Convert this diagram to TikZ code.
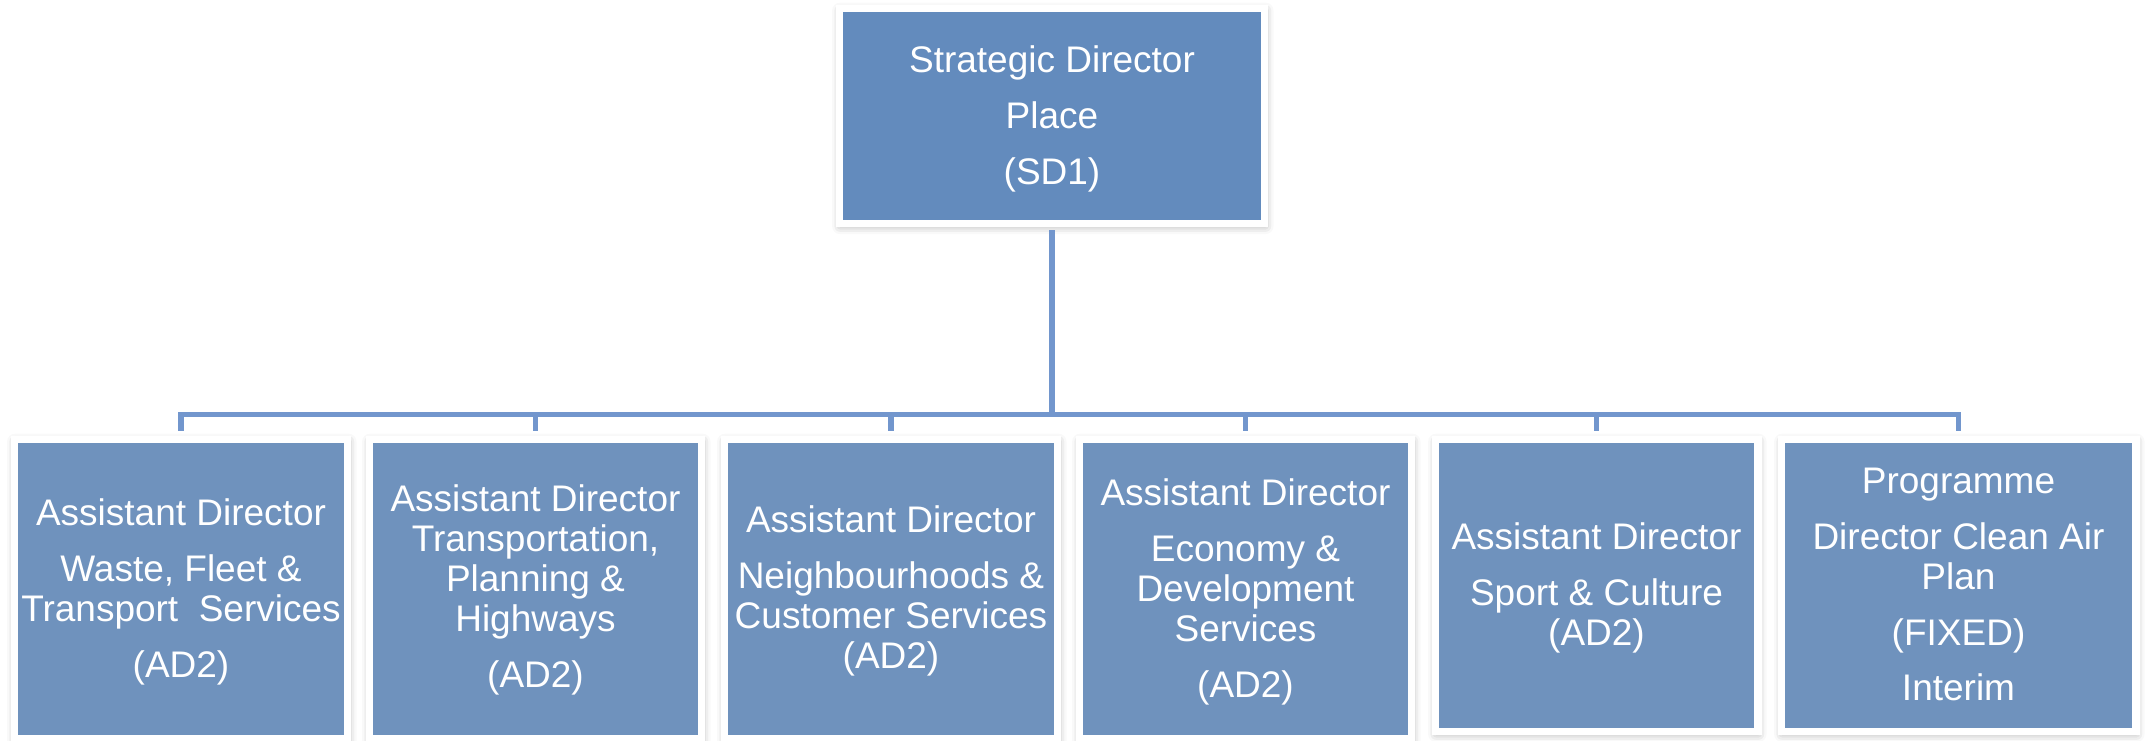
\documentclass[tikz,border=0pt]{standalone}
\usepackage{fontspec}
\setmainfont{Liberation Sans}
\usetikzlibrary{shadows.blur}
\definecolor{topblue}{RGB}{99,139,189}
\definecolor{boxblue}{RGB}{111,146,189}
\definecolor{linkblue}{RGB}{114,150,205}
\begin{document}
\begin{tikzpicture}[x=0.75pt,y=-0.75pt,
  framebox/.style={rectangle, draw=white, line width=5.6pt, fill=boxblue, inner sep=0pt,
    blur shadow={shadow xshift=0.6pt, shadow yshift=-1.8pt, shadow blur radius=6pt, shadow opacity=35}},
  label/.style={anchor=base, align=center, text=white, inner sep=0pt,
    font=\fontsize{27.75}{30}\selectfont},
  conn/.style={draw=linkblue, line width=4.2pt, line join=miter}]
\useasboundingbox (0,0) rectangle (2150,741);
\coordinate (barc) at (1052,414.5);
% boxes
\node[framebox, fill=topblue, minimum width={425.5*0.75pt}, minimum height={215.5*0.75pt}] (top) at (1052,116) {};
\node[framebox, minimum width={333.5*0.75pt}, minimum height={299.5*0.75pt}] (b1) at (181,589) {};
\node[framebox, minimum width={332.5*0.75pt}, minimum height={299.5*0.75pt}] (b2) at (535.5,589) {};
\node[framebox, minimum width={333.5*0.75pt}, minimum height={299.5*0.75pt}] (b3) at (891,589) {};
\node[framebox, minimum width={332.5*0.75pt}, minimum height={299.5*0.75pt}] (b4) at (1245.5,589) {};
\node[framebox, minimum width={322.5*0.75pt}, minimum height={292.5*0.75pt}] (b5) at (1596.5,585.5) {};
\node[framebox, minimum width={354.5*0.75pt}, minimum height={292.5*0.75pt}] (b6) at (1958.5,585.5) {};
% connectors
\draw[conn, shorten <=3*0.75pt] (top.south) -- (barc);
\draw[conn, shorten <=5*0.75pt, shorten >=5*0.75pt] (b1.north) -- (b1.north |- barc) -- (b6.north |- barc) -- (b6.north);
\foreach \b in {b2,b3,b4,b5}
  \draw[conn, shorten >=5*0.75pt] (\b.north |- barc) -- (\b.north);
% texts (anchored at the baseline of the last line)
\node[label] (t0) at (1052,185) {Strategic Director\\[12pt]Place\\[12pt](SD1)};
\node[label] (t1) at (181,677) {Assistant Director\\[12pt]Waste, Fleet \&\\Transport\ \ Services\\[12pt](AD2)};
\node[label] (t2) at (535.5,687) {Assistant Director\\Transportation,\\Planning \&\\Highways\\[12pt](AD2)};
\node[label] (t3) at (891,668) {Assistant Director\\[12pt]Neighbourhoods \&\\Customer Services\\(AD2)};
\node[label] (t4) at (1245.5,697) {Assistant Director\\[12pt]Economy \&\\Development\\Services\\[12pt](AD2)};
\node[label] (t5) at (1596.5,645) {Assistant Director\\[12pt]Sport \& Culture\\(AD2)};
\node[label] (t6) at (1958.5,700) {Programme\\[12pt]Director Clean Air\\Plan\\[12pt](FIXED)\\[11pt]Interim};
\end{tikzpicture}
\end{document}
